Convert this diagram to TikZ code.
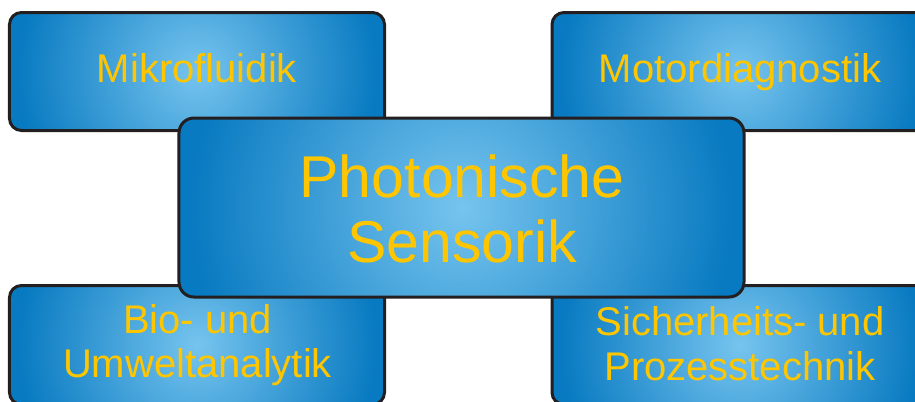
\documentclass[tikz,border=0pt]{standalone}
\usepackage{fontspec}
\setmainfont{Liberation Sans}
\definecolor{glowin}{RGB}{118,196,238}
\definecolor{glowout}{RGB}{8,122,193}
\definecolor{labelgold}{RGB}{255,198,0}
\definecolor{edgeblack}{RGB}{35,31,32}
\pgfdeclareradialshading{boxglow}{\pgfpoint{0bp}{0bp}}{color(0bp)=(glowin); color(24bp)=(glowout); color(50bp)=(glowout)}
\begin{document}
\begin{tikzpicture}[x=1bp,y=-1bp,
  glowbox/.style n args={3}{rectangle, draw=edgeblack, line width=3bp, inner sep=0pt,
    minimum width=#1bp, minimum height=#2bp, rounded corners=#3bp,
    path picture={\shade[shading=boxglow]
      ([shift={(-#1/2,-#1/2)}]path picture bounding box.center) rectangle
      ([shift={(#1/2,#1/2)}]path picture bounding box.center);}},
  smalltext/.style={text=labelgold, inner sep=0pt, anchor=base, font=\fontsize{40bp}{44bp}\selectfont},
  bigtext/.style={text=labelgold, inner sep=0pt, anchor=base, font=\fontsize{59bp}{65bp}\selectfont}]
\useasboundingbox (0,0) rectangle (915,401);
\clip (0,0) rectangle (915,401);
\node[glowbox={375}{118}{12}] (tl) at (197,71.5) {};
\node[glowbox={375}{118}{12}] (tr) at (739.5,71.5) {};
\node[glowbox={375}{119}{12}] (bl) at (197,345) {};
\node[glowbox={375}{119}{12}] (br) at (739.5,345) {};
\node[glowbox={565}{179}{15}] (c) at (461.5,207.5) {};
\node[smalltext] (tltext) at (197,82) {Mikrofluidik};
\node[smalltext] (trtext) at (740,82) {Motordiagnostik};
\node[bigtext] (ctexta) at (462,197) {Photonische};
\node[bigtext] (ctextb) at (462,262) {Sensorik};
\node[smalltext] (bltexta) at (197.5,333) {Bio- und};
\node[smalltext] (bltextb) at (197.5,377) {Umweltanalytik};
\node[smalltext] (brtexta) at (740,335.5) {Sicherheits- und};
\node[smalltext] (brtextb) at (740,380) {Prozesstechnik};
\end{tikzpicture}
\end{document}
